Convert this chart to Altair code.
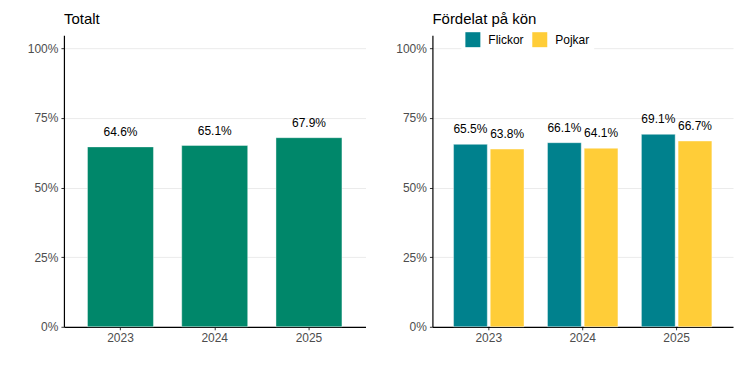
import altair as alt
import pandas as pd

years = ["2023", "2024", "2025"]
totalt = [64.6, 65.1, 67.9]
flickor = [65.5, 66.1, 69.1]
pojkar = [63.8, 64.1, 66.7]
groups = ["Flickor", "Pojkar"]

GREEN = "#00876a"
TEAL = "#00818d"
YELLOW = "#ffcd38"
FONT = "Liberation Sans"

df_tot = pd.DataFrame({"year": years, "v": [v / 100 for v in totalt],
                       "lab": [f"{v:.1f}%" for v in totalt]})
rows = []
for i, y in enumerate(years):
    rows.append({"year": y, "kon": "Flickor", "v": flickor[i] / 100, "lab": f"{flickor[i]:.1f}%"})
    rows.append({"year": y, "kon": "Pojkar", "v": pojkar[i] / 100, "lab": f"{pojkar[i]:.1f}%"})
df_kon = pd.DataFrame(rows)

W, H = 302, 292
yscale = alt.Scale(domain=[0, 1.047], nice=False, zero=True)
yaxis = alt.Axis(values=[0, 0.25, 0.5, 0.75, 1.0], format=".0%", title=None,
                 grid=True, gridColor="#ebebeb", gridWidth=1,
                 domainColor="black", domainWidth=1.2,
                 tickColor="#333333", tickSize=3, labelColor="#4d4d4d",
                 labelFontSize=12, labelPadding=3, labelFont=FONT)
xaxis = alt.Axis(title=None, labelAngle=0, domainColor="black", domainWidth=1.2,
                 tickColor="#333333", tickSize=3, labelColor="#4d4d4d",
                 labelFontSize=12, labelPadding=3, labelFont=FONT, grid=False)

def title(t):
    return alt.TitleParams(t, anchor="start", frame="group", fontSize=15, fontWeight="normal",
                           font=FONT, color="black", offset=8)

# Left panel
xs_left = alt.Scale(paddingInner=0.3, paddingOuter=0.25)
base_l = alt.Chart(df_tot).encode(
    x=alt.X("year:N", scale=xs_left, axis=xaxis),
    y=alt.Y("v:Q", scale=yscale, axis=yaxis),
)
bars_l = base_l.mark_bar(color=GREEN, stroke="white", strokeOpacity=0.4, strokeWidth=1)
text_l = base_l.mark_text(dy=-8, baseline="bottom", fontSize=12, font=FONT, color="black").encode(text="lab:N")
left = (bars_l + text_l).properties(width=W, height=H, title=title("Totalt"))

# Right panel
xs_right = alt.Scale(paddingInner=0.25, paddingOuter=0.225)
base_r = alt.Chart(df_kon).encode(
    x=alt.X("year:N", scale=xs_right, axis=xaxis),
    xOffset=alt.XOffset("kon:N", scale=alt.Scale(paddingInner=0.08)),
    y=alt.Y("v:Q", scale=yscale, axis=yaxis),
)
bars_r = base_r.mark_bar(stroke="white", strokeOpacity=0.4, strokeWidth=1).encode(
    color=alt.Color("kon:N", scale=alt.Scale(domain=groups, range=[TEAL, YELLOW]),
                    legend=alt.Legend(title=None, orient="none", direction="horizontal",
                                      legendX=398, legendY=-7, padding=4,
                                      fillColor="white", symbolType="square",
                                      symbolSize=225, symbolStrokeWidth=0,
                                      labelFontSize=12, labelFont=FONT, labelColor="black",
                                      labelOffset=8, columnPadding=8))
)
text_r = base_r.mark_text(dy=-8, baseline="bottom", fontSize=12, font=FONT, color="black").encode(text="lab:N")
right = (bars_r + text_r).properties(width=W - 1, height=H, title=title("Fördelat på kön"))

chart = alt.hconcat(left, right, spacing=30).properties(
    padding={"left": 19, "top": 4, "right": 5, "bottom": 5}
).configure_view(stroke=None).configure_concat(spacing=28)

chart.save("out.html", embed_options={"renderer": "svg", "actions": False})
